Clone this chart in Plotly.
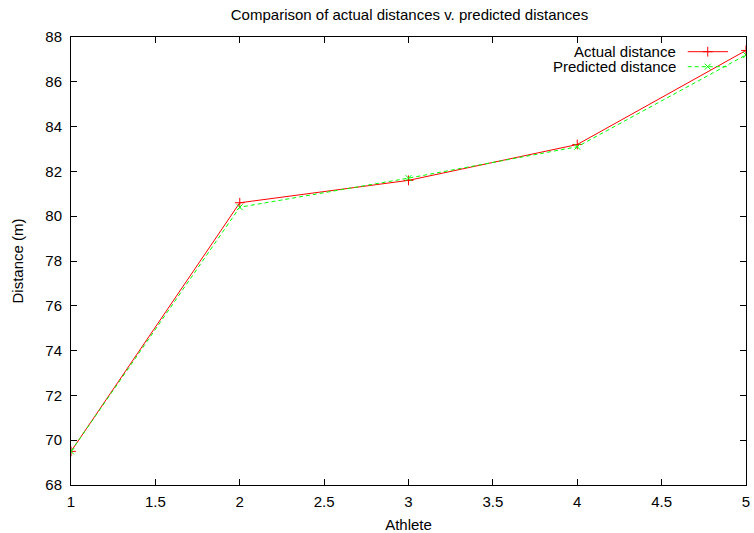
import plotly.graph_objects as go

athletes = [1, 2, 3, 4, 5]
actual = [69.5, 80.6, 81.6, 83.2, 87.4]
predicted = [69.5, 80.4, 81.7, 83.1, 87.2]
x_ticks = [1, 1.5, 2, 2.5, 3, 3.5, 4, 4.5, 5]
y_ticks = [68, 70, 72, 74, 76, 78, 80, 82, 84, 86, 88]

FONT = "Liberation Sans, Arial, Helvetica, sans-serif"
RED = "#ff0000"
GREEN = "#00ff00"
FS = 15

fig = go.Figure()
fig.add_trace(go.Scatter(
    x=athletes, y=actual, mode="lines+markers", name="Actual distance",
    line=dict(color=RED, width=1),
    marker=dict(symbol="cross-thin-open", size=7, color=RED, line=dict(color=RED, width=1)),
    showlegend=False,
))
fig.add_trace(go.Scatter(
    x=athletes, y=predicted, mode="lines+markers", name="Predicted distance",
    line=dict(color=GREEN, width=1, dash="4px,3px"),
    marker=dict(symbol="x-thin-open", size=6, color=GREEN, line=dict(color=GREEN, width=1)),
    showlegend=False,
))

# gnuplot-style key (text on left, sample on right) on an overlay axis in [0,1]
key_rows = [("Actual distance", RED, "solid", "cross-thin-open", 7, 0.9672),
            ("Predicted distance", GREEN, "4px,3px", "x-thin-open", 6, 0.9337)]
for label, col, dash, sym, sz, yy in key_rows:
    fig.add_trace(go.Scatter(
        x=[0.9137, 0.9733], y=[yy, yy], mode="lines", xaxis="x2", yaxis="y2",
        line=dict(color=col, width=1, dash=dash), showlegend=False, hoverinfo="skip"))
    fig.add_trace(go.Scatter(
        x=[0.9433], y=[yy], mode="markers", xaxis="x2", yaxis="y2",
        marker=dict(symbol=sym, size=sz, color=col, line=dict(color=col, width=1)),
        showlegend=False, hoverinfo="skip"))
    fig.add_annotation(x=0.8985, y=yy, xref="x2", yref="y2", text=label,
                       showarrow=False, xanchor="right", yanchor="middle", borderpad=0,
                       font=dict(family=FONT, size=FS, color="black"))

axis_common = dict(showgrid=False, zeroline=False, showline=True, linecolor="black",
                   linewidth=1, mirror="ticks", ticks="inside", ticklen=6,
                   tickcolor="black", tickwidth=1,
                   tickfont=dict(family=FONT, size=FS, color="black"))

fig.update_layout(
    width=754, height=533,
    margin=dict(l=71, r=8, t=37, b=48, autoexpand=False),
    paper_bgcolor="white", plot_bgcolor="white",
    font=dict(family=FONT, size=FS, color="black"),
    title=dict(text="Comparison of actual distances v. predicted distances",
               x=409.5 / 754, xanchor="center", y=1 - 15 / 533, yanchor="middle",
               font=dict(family=FONT, size=FS, color="black")),
    xaxis=dict(range=[1, 5], tickvals=x_ticks, ticktext=[f"{v:g}" for v in x_ticks],
               ticklabelstandoff=3,
               title=dict(text="Athlete", standoff=11, font=dict(family=FONT, size=FS)),
               **axis_common),
    yaxis=dict(range=[68, 88], tickvals=y_ticks, ticklabelstandoff=5,
               title=dict(text="Distance (m)", standoff=18, font=dict(family=FONT, size=FS)),
               **axis_common),
    xaxis2=dict(overlaying="x", range=[0, 1], visible=False, fixedrange=True),
    yaxis2=dict(overlaying="y", range=[0, 1], visible=False, fixedrange=True),
    showlegend=False,
    hovermode=False,
)

# remove the browser's default 8px body margin so the figure fills the window exactly
fig.write_html("out.html",
               config={"displayModeBar": False, "staticPlot": True},
               post_script="document.body.style.margin='0';document.body.style.overflow='hidden';")
